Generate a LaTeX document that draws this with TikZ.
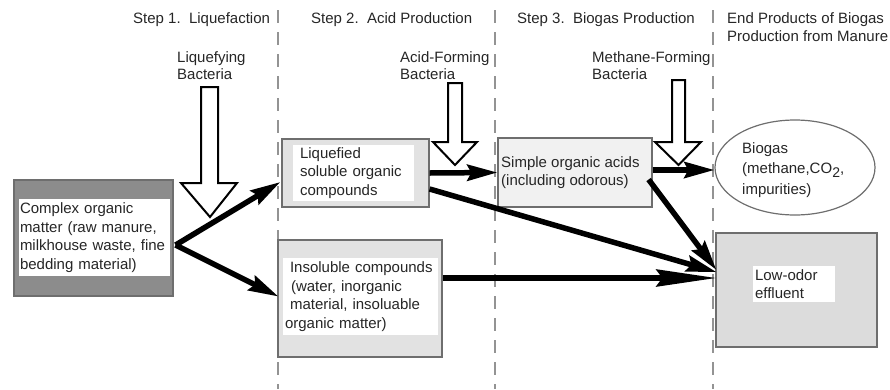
\documentclass[tikz,border=0pt]{standalone}
\usepackage{fontspec}
\setmainfont{Liberation Sans}
\usetikzlibrary{arrows.meta,shapes.geometric}
\definecolor{txt}{HTML}{262626}
\definecolor{dkgray}{HTML}{8C8C8C}
\definecolor{ltgray}{HTML}{E2E2E2}
\definecolor{vltgray}{HTML}{F1F1F1}
\definecolor{midgray}{HTML}{DCDCDC}
\definecolor{edge}{HTML}{6E6E6E}
\begin{document}
\begin{tikzpicture}[x=1pt,y=-1pt,
  font=\fontsize{15}{18.5}\selectfont, text=txt,
  lbl/.style={inner sep=0pt, align=left, anchor=north west},
  boxshape/.style={draw=edge, line width=1.2pt, inner sep=0pt, rectangle},
  whitein/.style={fill=white, inner ysep=0pt, align=left},
  flow/.style={line width=5.5pt, -{Stealth[length=30pt,width=16pt,inset=4pt]}},
  longflow/.style={line width=5.5pt, -{Stealth[length=60pt,width=17pt,inset=6pt]}},
  hollow/.style={draw=black, fill=white, line width=2pt, line join=miter},
  sepline/.style={draw=gray!85, line width=1.5pt, dash pattern=on 13pt off 9pt}]
\useasboundingbox (0,0) rectangle (890,389);

% separators
\draw[sepline] (278,10) -- (278,389);
\draw[sepline] (495,10) -- (495,389);
\draw[sepline] (713,10) -- (713,389);

% headers
\node[lbl] (h1) at (133,12) {Step 1.\ \ Liquefaction};
\node[lbl] (h2) at (311,12) {Step 2.\ \ Acid Production};
\node[lbl] (h3) at (517,12) {Step 3.\ \ Biogas Production};
\node[lbl] (h4) at (727,12) {End Products of Biogas\\Production from Manure};

% bacteria labels
\node[lbl, font=\fontsize{15}{17.5}\selectfont] (b1) at (177,51) {Liquefying\\Bacteria};
\node[lbl, font=\fontsize{15}{17.5}\selectfont] (b2) at (400,51) {Acid-Forming\\Bacteria};
\node[lbl, font=\fontsize{15}{17.5}\selectfont] (b3) at (592,51) {Methane-Forming\\Bacteria};

% boxes
\node[boxshape, fill=dkgray, minimum width=159, minimum height=116] (cplx) at (93.5,238) {};
\node[whitein, minimum width=151, minimum height=77, inner xsep=1pt, text width=149pt] (cplxt) at (94.5,237.5)
  {Complex organic\\matter (raw manure,\\milkhouse waste, fine\\bedding material)};

\node[boxshape, fill=ltgray, minimum width=147, minimum height=68] (liq) at (355.5,173) {};
\node[whitein, minimum width=121, minimum height=56, inner xsep=7pt, text width=107pt] (liqt) at (353.5,173)
  {Liquefied\\soluble organic\\compounds};

\node[boxshape, fill=ltgray, minimum width=164, minimum height=117] (insol) at (360,298.5) {};
\node[whitein, minimum width=155, minimum height=77, inner xsep=2pt, text width=151pt] (insolt) at (360.5,296.5)
  {\hspace*{5pt}Insoluble compounds\\\hspace*{6pt}(water, inorganic\\\hspace*{5pt}material, insoluable\\organic matter)};

\node[boxshape, fill=vltgray, minimum width=154, minimum height=69] (simple) at (575,172.5) {};
\node[lbl] (simplet) at (501,156) {Simple organic acids\\(including odorous)};

\node[draw=edge, line width=1.2pt, fill=white, ellipse, inner sep=0pt, minimum width=160, minimum height=95] (bio) at (795,167.5) {};
\node[lbl, font=\fontsize{15}{20.5}\selectfont] (biot) at (742,142)
  {Biogas\\(methane,CO\raisebox{-3.5pt}{\fontsize{14}{14}\selectfont 2},\\impurities)};

\node[boxshape, fill=midgray, minimum width=161, minimum height=114] (low) at (796.5,290) {};
\node[whitein, minimum width=82, minimum height=36, inner xsep=2pt, text width=78pt] (lowt) at (794,284)
  {Low-odor\\effluent};

% hollow bacteria arrows
\draw[hollow] (201,87) -- (218,87) -- (218,183) -- (237,183) -- (210,217) -- (181,183) -- (201,183) -- cycle;
\draw[hollow] (448,83) -- (462,83) -- (462,142) -- (477,142) -- (455,165) -- (433,142) -- (448,142) -- cycle;
\draw[hollow] (672,80) -- (685,80) -- (685,142) -- (701,142) -- (678.5,165) -- (655,142) -- (672,142) -- cycle;

% flows
\draw[flow] ([shift={(2,7)}]cplx.east) -- ([shift={(-1,9)}]liq.west);
\draw[flow] ([shift={(2,7)}]cplx.east) -- ([shift={(1,-2)}]insol.west);
\draw[flow] (liq.east) -- (simple.west);
\draw[flow] ([shift={(0,-2.5)}]simple.east) -- ([shift={(0,2.5)}]bio.west);
\draw[flow] ([shift={(0,16)}]liq.east) -- ([shift={(1,-18)}]low.west);
\draw[flow] ([shift={(-4,7)}]simple.east) -- ([shift={(1,-20)}]low.west);
\draw[longflow] ([shift={(0,-20.5)}]insol.east) -- ([shift={(1,-12)}]low.west);
\end{tikzpicture}
\end{document}
